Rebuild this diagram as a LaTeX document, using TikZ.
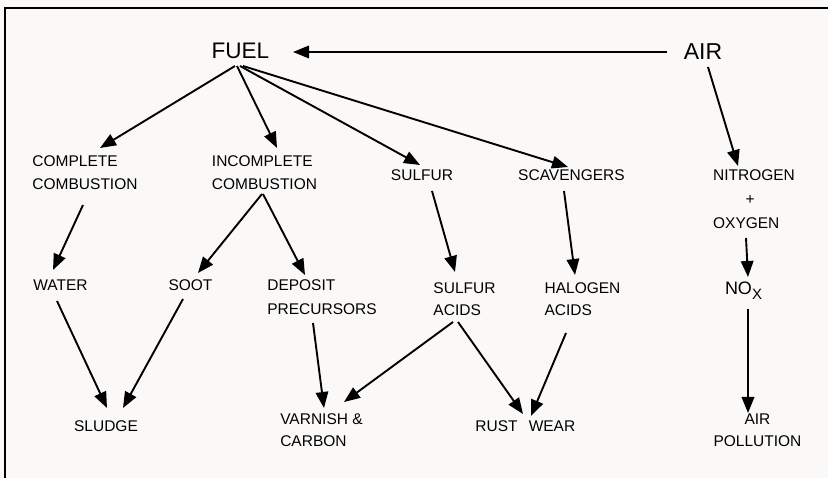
\documentclass[tikz,border=0pt]{standalone}
\usepackage{fontspec}
\setmainfont{Liberation Sans}
\usetikzlibrary{arrows.meta}
\begin{document}
\begin{tikzpicture}[x=1pt,y=-1pt,
  lbl/.style={inner sep=0pt,font=\fontsize{15.5}{22.5}\selectfont,align=left},
  big/.style={inner sep=0pt,font=\fontsize{22.5}{26}\selectfont},
  arr/.style={line width=1.9pt,-{Triangle[length=16pt,width=12.5pt]}},
  frame/.style={line width=1.5pt}]
\useasboundingbox[fill={rgb,255:red,250;green,249;blue,248}] (0,0) rectangle (828,478);
\draw[frame] (5,480) coordinate (fb) -- (5,8) coordinate (fc) -- (830,8) coordinate (fr);
% nodes
\node[big] (fuel) at (240.5,51) {FUEL};
\node[big,font=\fontsize{23}{26}\selectfont] (air) at (703,52) {AIR};
\node[lbl] (cc) at (85,172.5) {COMPLETE\\COMBUSTION};
\node[lbl] (ic) at (264.5,172.5) {INCOMPLETE\\COMBUSTION};
\node[lbl] (sulfur) at (422,175.5) {SULFUR};
\node[lbl] (scav) at (571.5,175.5) {SCAVENGERS};
\node[lbl,font=\fontsize{15.5}{24}\selectfont] (nitro) at (754,199.5) {NITROGEN\\\hspace{32.5pt}+\\OXYGEN};
\node[lbl] (water) at (60.5,285) {WATER};
\node[lbl] (soot) at (190.5,285) {SOOT};
\node[lbl,font=\fontsize{15.5}{24}\selectfont] (dep) at (322,297.5) {DEPOSIT\\PRECURSORS};
\node[lbl] (sacid) at (464.5,299) {SULFUR\\ACIDS};
\node[lbl] (hacid) at (582.5,299) {HALOGEN\\ACIDS};
\node[inner sep=0pt,font=\fontsize{18}{20}\selectfont] (nox) at (743.5,291) {NO\raisebox{-5pt}{\fontsize{15}{15}\selectfont X}};
\node[lbl] (sludge) at (106,426.5) {SLUDGE};
\node[lbl,font=\fontsize{15.5}{21.5}\selectfont] (varnish) at (321.5,430) {VARNISH \&\\CARBON};
\node[lbl] (rust) at (496.5,426.5) {RUST};
\node[lbl] (wear) at (552,426.5) {WEAR};
\node[lbl,align=center] (airpol) at (757.5,430) {AIR\\POLLUTION};
% connectors
\draw[arr] ([shift={(-36,0)}]air.center) -- ([shift={(52.5,1)}]fuel.center);
\draw[arr] ([shift={(5,15)}]air.center) -- ([shift={(-16,-33.5)}]nitro.center);
\draw[arr] ([shift={(-5.5,15)}]fuel.center) -- ([shift={(15,-24.5)}]cc.center);
\draw[arr] ([shift={(-3.5,15)}]fuel.center) -- ([shift={(12.5,-24.5)}]ic.center);
\draw[arr] ([shift={(-0.5,15)}]fuel.center) -- ([shift={(-2,-10.5)}]sulfur.center);
\draw[arr] ([shift={(2.5,15)}]fuel.center) -- ([shift={(-3.5,-8.5)}]scav.center);
\draw[arr] ([shift={(-2,32.5)}]cc.center) -- ([shift={(-7.5,-15)}]water.center);
\draw[arr] ([shift={(-2.5,21.5)}]ic.center) -- ([shift={(7.5,-12)}]soot.center);
\draw[arr] ([shift={(-1.5,21.5)}]ic.center) -- ([shift={(-17,-22.5)}]dep.center);
\draw[arr] ([shift={(10,15.5)}]sulfur.center) -- ([shift={(-9.5,-27)}]sacid.center);
\draw[arr] ([shift={(-7.5,15.5)}]scav.center) -- ([shift={(-7.5,-24)}]hacid.center);
\draw[arr] ([shift={(-8,38.5)}]nitro.center) -- ([shift={(4.5,-14)}]nox.center);
\draw[arr] ([shift={(4.5,18)}]nox.center) -- ([shift={(-9.5,-17)}]airpol.center);
\draw[arr] ([shift={(-3.5,16)}]water.center) -- ([shift={(1,-18.5)}]sludge.center);
\draw[arr] ([shift={(-7.5,14)}]soot.center) -- ([shift={(17,-18.5)}]sludge.center);
\draw[arr] ([shift={(-9,25.5)}]dep.center) -- ([shift={(2.5,-22)}]varnish.center);
\draw[arr] ([shift={(-11.5,23)}]sacid.center) -- ([shift={(22.5,-28)}]varnish.center);
\draw[arr] ([shift={(-6.5,23)}]sacid.center) -- ([shift={(26.5,-12.5)}]rust.center);
\draw[arr] ([shift={(-16.5,34)}]hacid.center) -- ([shift={(-21,-10.5)}]wear.center);
\end{tikzpicture}
\end{document}
